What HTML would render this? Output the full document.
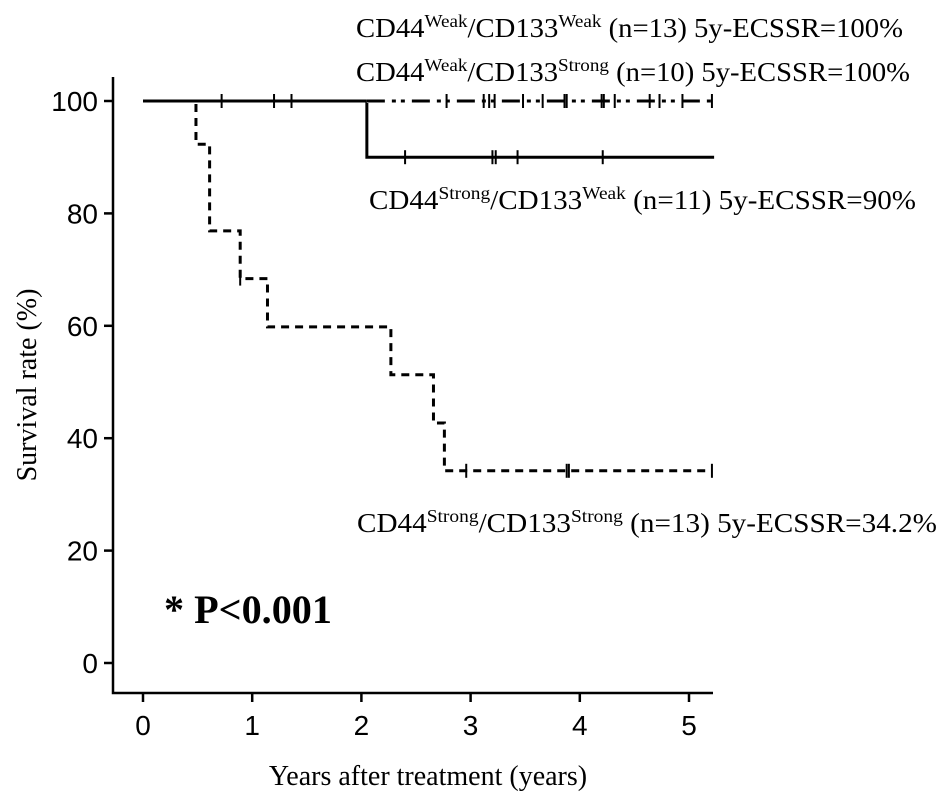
<!DOCTYPE html>
<html><head><meta charset="utf-8"><style>
html,body{margin:0;padding:0;background:#fff;}
svg{display:block;}
</style></head><body>
<svg id="chart" width="945" height="811" viewBox="0 0 945 811" xmlns="http://www.w3.org/2000/svg"></svg>
<script>
// ---- data ----
const xTicks = [0, 1, 2, 3, 4, 5];
const yTicks = [0, 20, 40, 60, 80, 100];
// step curves: [time, survival%]
const strongStrongSteps = [[0,100],[0.485,92.3],[0.61,76.9],[0.89,68.4],[1.14,59.8],[2.27,51.3],[2.66,42.7],[2.76,34.2],[5.21,34.2]];
const strongStrongCensor = [0.89, 2.96, 3.88, 3.9, 5.21];
const strongWeakSteps = [[0,100],[2.05,100],[2.05,90],[5.23,90]];
const strongWeakCensor = [0.72, 1.2, 1.36, 2.4, 3.2, 3.23, 3.43, 4.21];
const weakStrongSteps = [[2.05,100],[5.21,100]];
const weakCensor = [2.78, 3.12, 3.17, 3.22, 3.48, 3.66, 3.86, 3.88, 4.2, 4.22, 4.32, 4.64, 4.73, 4.94, 5.21];

// ---- axes ----
const X0 = 143, XS = 109.2, Y0 = 663, YS = 5.62;
const xs = t => X0 + t * XS;
const ys = v => Y0 - v * YS;
const NS = 'http://www.w3.org/2000/svg';
const svg = document.getElementById('chart');
function mk(tag, attrs, parent) {
  const e = document.createElementNS(NS, tag);
  for (const k in attrs) e.setAttribute(k, attrs[k]);
  (parent || svg).appendChild(e);
  return e;
}

const axes = mk('path', {d: 'M113 77 V693 H713', fill: 'none', stroke: '#000', 'stroke-width': 2.5});



xTicks.forEach(t => {
  const tk = mk('line', {x1: xs(t), x2: xs(t), y1: 693, y2: 702, stroke: '#000', 'stroke-width': 2.5});
  
  
  const lb = mk('text', {x: xs(t), y: 735, 'text-anchor': 'middle', 'font-family': 'Liberation Sans, sans-serif', 'font-size': 28});
  lb.textContent = t;
  
  
});
yTicks.forEach(v => {
  const tk = mk('line', {x1: 104, x2: 113, y1: ys(v), y2: ys(v), stroke: '#000', 'stroke-width': 2.5});
  
  
  const lb = mk('text', {x: 98, y: ys(v) + 10, 'text-anchor': 'end', 'font-family': 'Liberation Sans, sans-serif', 'font-size': 28});
  lb.textContent = v;
  
  
});

function stepPath(steps) {
  let d = '';
  steps.forEach((p, i) => {
    const x = xs(p[0]), y = ys(p[1]);
    if (i === 0) d += 'M' + x + ' ' + y;
    else { d += ' H' + x + ' V' + y; }
  });
  return d;
}
function valueAt(steps, t) {
  let v = steps[0][1];
  steps.forEach(p => { if (p[0] <= t) v = p[1]; });
  return v;
}

const c1 = mk('path', {d: stepPath(strongWeakSteps), fill: 'none', stroke: '#000', 'stroke-width': 3});


const c2 = mk('path', {d: stepPath(weakStrongSteps), fill: 'none', stroke: '#fff', 'stroke-width': 4});


const c3 = mk('path', {d: stepPath(weakStrongSteps), fill: 'none', stroke: '#000', 'stroke-width': 3, 'stroke-dasharray': '18 7 4 5 4 7'});


const c4 = mk('path', {d: stepPath(strongStrongSteps), fill: 'none', stroke: '#000', 'stroke-width': 3, 'stroke-dasharray': '8 6'});



function censors(list, steps, name) {
  list.forEach(t => {
    const y = ys(valueAt(steps, t)), x = xs(t);
    const m = mk('line', {x1: x, x2: x, y1: y - 7, y2: y + 7, stroke: '#000', 'stroke-width': 2});
    
    
  });
}
censors(strongWeakCensor, strongWeakSteps, 'censor-mark-strong-weak');
censors(weakCensor, weakStrongSteps, 'censor-mark-weak-strong');
censors(strongStrongCensor, strongStrongSteps, 'censor-mark-strong-strong');

function legend(x, yc, width, a, b, rest, name) {
  const t = mk('text', {x: x, y: yc + 9, 'font-family': 'Liberation Serif, serif', 'font-size': 27, textLength: width, lengthAdjust: 'spacingAndGlyphs'});
  
  
  t.innerHTML = 'CD44<tspan font-size="18" dy="-10">' + a + '</tspan><tspan dy="10">/CD133</tspan><tspan font-size="18" dy="-10">' + b + '</tspan><tspan dy="10">' + rest + '</tspan>';
}
legend(356, 28, 547, 'Weak', 'Weak', ' (n=13) 5y-ECSSR=100%', 'legend-weak-weak');
legend(356, 72, 554, 'Weak', 'Strong', ' (n=10) 5y-ECSSR=100%', 'legend-weak-strong');
legend(369, 200, 547, 'Strong', 'Weak', ' (n=11) 5y-ECSSR=90%', 'legend-strong-weak');
legend(357, 523, 580, 'Strong', 'Strong', ' (n=13) 5y-ECSSR=34.2%', 'legend-strong-strong');

const p = mk('text', {x: 164, y: 623, 'font-family': 'Liberation Serif, serif', 'font-size': 40, 'font-weight': 'bold', textLength: 168, lengthAdjust: 'spacingAndGlyphs'});
p.textContent = '* P<0.001';



const xt = mk('text', {x: 428, y: 785, 'text-anchor': 'middle', 'font-family': 'Liberation Serif, serif', 'font-size': 28});
xt.textContent = 'Years after treatment (years)';



const yt = mk('text', {x: 0, y: 0, 'text-anchor': 'middle', 'font-family': 'Liberation Serif, serif', 'font-size': 28, transform: 'translate(36,385) rotate(-90)'});
yt.textContent = 'Survival rate (%)';


</script>
</body></html>
